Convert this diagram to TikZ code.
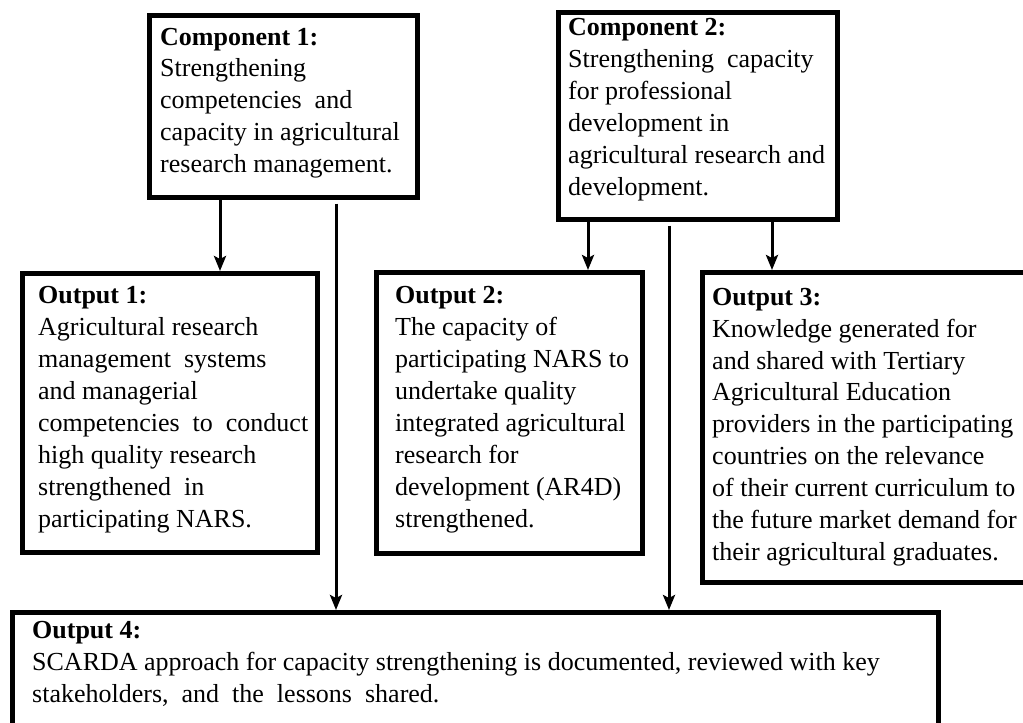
\documentclass[tikz,border=0pt]{standalone}
\usepackage{fontspec}
\setmainfont{Liberation Serif}
\usetikzlibrary{arrows.meta,calc}

\tikzset{
  box/.style={draw=black, line width=4.5pt, fill=none, inner sep=0pt, anchor=north west},
  txt/.style={anchor=north west, inner sep=0pt, align=left, text=black},
  arr/.style={draw=black, line width=3pt, -{Stealth[length=15pt,width=12pt,inset=3pt]}}
}
\newcommand{\firststrut}{\rule{0pt}{20pt}}

\begin{document}
\begin{tikzpicture}[x=1pt,y=-1pt]
  \useasboundingbox (0,0) rectangle (1023,723);
  \clip (0,0) rectangle (1023,723);
  \fill[white] (0,0) rectangle (1023,723);

  % boxes
  \node[box, minimum width=268pt, minimum height=182pt] (c1) at (147,13) {};
  \node[box, minimum width=279pt, minimum height=207pt] (c2) at (556,10) {};
  \node[box, minimum width=295pt, minimum height=279pt] (o1) at (20,271) {};
  \node[box, minimum width=266pt, minimum height=281pt] (o2) at (374,270) {};
  \node[box, minimum width=335pt, minimum height=310pt] (o3) at (700,270) {};
  \node[box, minimum width=926pt, minimum height=125pt] (o4) at (10,610) {};

  % texts (first baseline 20pt below the anchor)
  \node[txt, font=\fontsize{26}{31.75}\selectfont] (c1t) at (160,25) {\firststrut\textbf{Component 1:}\\
    Strengthening\\ competencies\ \ and\\ capacity in agricultural\\ research management.};
  \node[txt, font=\fontsize{26}{32}\selectfont] (c2t) at (568,15) {\firststrut\textbf{Component 2:}\\
    Strengthening\ \ capacity\\ for professional\\ development in\\ agricultural research and\\ development.};
  \node[txt, font=\fontsize{26}{32.1}\selectfont] (o1t) at (38,283) {\firststrut\textbf{Output 1:}\\
    Agricultural research\\ management\ \ systems\\ and managerial\\ competencies\ \ to\ \ conduct\\
    high quality research\\ strengthened\ \ in\\ participating NARS.};
  \node[txt, font=\fontsize{26}{32.1}\selectfont] (o2t) at (395,283) {\firststrut\textbf{Output 2:}\\
    The capacity of\\ participating NARS to\\ undertake quality\\ integrated agricultural\\
    research for\\ development (AR4D)\\ strengthened.};
  \node[txt, font=\fontsize{26}{31.9}\selectfont] (o3t) at (712,285) {\firststrut\textbf{Output 3:}\\
    Knowledge generated for\\ and shared with Tertiary\\ Agricultural Education\\
    providers in the participating\\ countries on the relevance\\ of their current curriculum to\\
    the future market demand for\\ their agricultural graduates.};
  \node[txt, font=\fontsize{26}{32}\selectfont] (o4t) at (32,618) {\firststrut\textbf{Output 4:}\\
    SCARDA approach for capacity strengthening is documented, reviewed with key\\
    stakeholders,\ \ and\ \ the\ \ lessons\ \ shared.};

  % connector columns
  \coordinate (xa) at (220,0);
  \coordinate (xb) at (336,0);
  \coordinate (xc) at (588,0);
  \coordinate (xd) at (669,0);
  \coordinate (xe) at (772,0);

  % connectors
  \draw[arr] (xa |- c1.south) -- (xa |- o1.north);
  \draw[arr] ($(xb |- c1.south)+(0,4)$) -- (xb |- o4.north);
  \draw[arr] (xc |- c2.south) -- (xc |- o2.north);
  \draw[arr] ($(xd |- c2.south)+(0,4)$) -- (xd |- o4.north);
  \draw[arr] (xe |- c2.south) -- (xe |- o3.north);
\end{tikzpicture}
\end{document}
